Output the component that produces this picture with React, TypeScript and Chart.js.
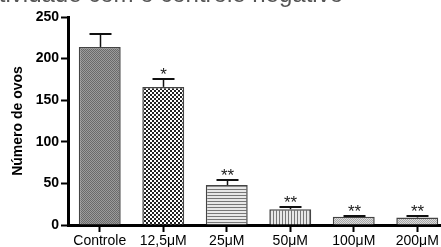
import { useEffect, useRef } from "react";
import { Chart, registerables } from "chart.js";
Chart.register(...registerables);

const categories = ["Controle", "12,5\u03bcM", "25\u03bcM", "50\u03bcM", "100\u03bcM", "200\u03bcM"];
const means = [214, 166, 48, 19, 10, 9];
const sems = [15, 9.5, 6.5, 3, 1, 1.5];
const marks = ["", "*", "**", "**", "**", "**"];
const patternKinds = ["fine", "check", "hlines", "vlines", "light", "light"];
const yTitle = "Número de ovos";
const topTitle = "Atividade com o controle negativo";

const FONT = "'Liberation Sans', Arial, sans-serif";

function makePattern(kind: string): CanvasPattern | string {
  const c = document.createElement("canvas");
  const ctx = c.getContext("2d")!;
  if (kind === "fine") {
    c.width = 2; c.height = 2;
    ctx.fillStyle = "#9c9c9c"; ctx.fillRect(0, 0, 2, 2);
    ctx.fillStyle = "#6a6a6a"; ctx.fillRect(0, 0, 1, 1); ctx.fillRect(1, 1, 1, 1);
  } else if (kind === "check") {
    c.width = 4; c.height = 4;
    ctx.fillStyle = "#ffffff"; ctx.fillRect(0, 0, 4, 4);
    ctx.fillStyle = "#222"; ctx.fillRect(0, 0, 2, 2); ctx.fillRect(2, 2, 2, 2);
  } else if (kind === "hlines") {
    c.width = 1; c.height = 3;
    ctx.fillStyle = "#e8e8e8"; ctx.fillRect(0, 0, 1, 3);
    ctx.fillStyle = "#777"; ctx.fillRect(0, 0, 1, 1);
  } else if (kind === "vlines") {
    c.width = 3; c.height = 1;
    ctx.fillStyle = "#e8e8e8"; ctx.fillRect(0, 0, 3, 1);
    ctx.fillStyle = "#777"; ctx.fillRect(0, 0, 1, 1);
  } else {
    c.width = 2; c.height = 2;
    ctx.fillStyle = "#dcdcdc"; ctx.fillRect(0, 0, 2, 2);
    ctx.fillStyle = "#a8a8a8"; ctx.fillRect(0, 0, 1, 1); ctx.fillRect(1, 1, 1, 1);
  }
  return ctx.createPattern(c, "repeat") || "#888";
}

const errorPlugin = {
  id: "errbars",
  afterDatasetsDraw(chart: any) {
    const ctx = chart.ctx;
    const meta = chart.getDatasetMeta(0);
    const y = chart.scales.y;
    ctx.save();
    meta.data.forEach((bar: any, i: number) => {
      const x = Math.round(bar.x) + 0.5;
      const top = bar.y;
      const ye = Math.round(y.getPixelForValue(means[i] + sems[i]));
      ctx.strokeStyle = "#111";
      ctx.lineWidth = 1.5;
      ctx.beginPath();
      ctx.moveTo(x, top);
      ctx.lineTo(x, ye);
      ctx.stroke();
      ctx.lineWidth = 2;
      ctx.beginPath();
      ctx.moveTo(x - 11, ye);
      ctx.lineTo(x + 11, ye);
      ctx.stroke();
      if (marks[i]) {
        ctx.fillStyle = "#222";
        ctx.font = `17px ${FONT}`;
        ctx.textAlign = "center";
        ctx.textBaseline = "alphabetic";
        ctx.fillText(marks[i], x, ye + 1);
      }
    });
    ctx.fillStyle = "#555";
    ctx.font = `24px ${FONT}`;
    ctx.textAlign = "right";
    ctx.textBaseline = "alphabetic";
    ctx.fillText(topTitle, 343, 2);
    ctx.restore();
  },
};

export default function App() {
  const ref = useRef<HTMLCanvasElement>(null);
  useEffect(() => {
    const chart = new Chart(ref.current!, {
      type: "bar",
      data: {
        labels: categories,
        datasets: [
          {
            data: means,
            backgroundColor: patternKinds.map(makePattern) as any,
            borderColor: "#444",
            borderWidth: 1.5,
            barPercentage: 0.66,
            categoryPercentage: 1,
          },
        ],
      },
      options: {
        responsive: false,
        animation: false,
        devicePixelRatio: 1,
        layout: { padding: { top: 17, right: 11, left: 0, bottom: 0 } },
        plugins: { legend: { display: false }, tooltip: { enabled: false }, title: { display: false } },
        scales: {
          x: {
            offset: true,
            grid: { display: true, offset: false, drawOnChartArea: false, drawTicks: true, tickLength: 7, tickWidth: 2, tickColor: "#000" },
            border: { display: true, width: 3, color: "#000" },
            ticks: { color: "#000", font: { family: FONT, size: 14 }, padding: 1, maxRotation: 0, autoSkip: false },
            afterFit: (s: any) => { s.height = 22; },
          },
          y: {
            min: 0,
            max: 250,
            grid: { display: true, drawOnChartArea: false, drawTicks: true, tickLength: 7, tickWidth: 2, tickColor: "#000" },
            border: { display: true, width: 3, color: "#000" },
            ticks: { stepSize: 50, color: "#000", font: { family: FONT, size: 14, weight: "bold" }, padding: 2 },
            title: { display: true, text: yTitle, color: "#000", font: { family: FONT, size: 14, weight: "bold" }, padding: { top: 10, bottom: 0 } },
            afterFit: (s: any) => { s.width = 68; },
          },
        },
      },
      plugins: [errorPlugin],
    });
    return () => chart.destroy();
  }, []);
  return (
    <div style={{ position: "fixed", left: 0, top: 0, width: 441, height: 247, overflow: "hidden", background: "#fff" }}>
      <canvas ref={ref} width={460} height={247} style={{ display: "block", width: 460, height: 247 }} />
    </div>
  );
}
